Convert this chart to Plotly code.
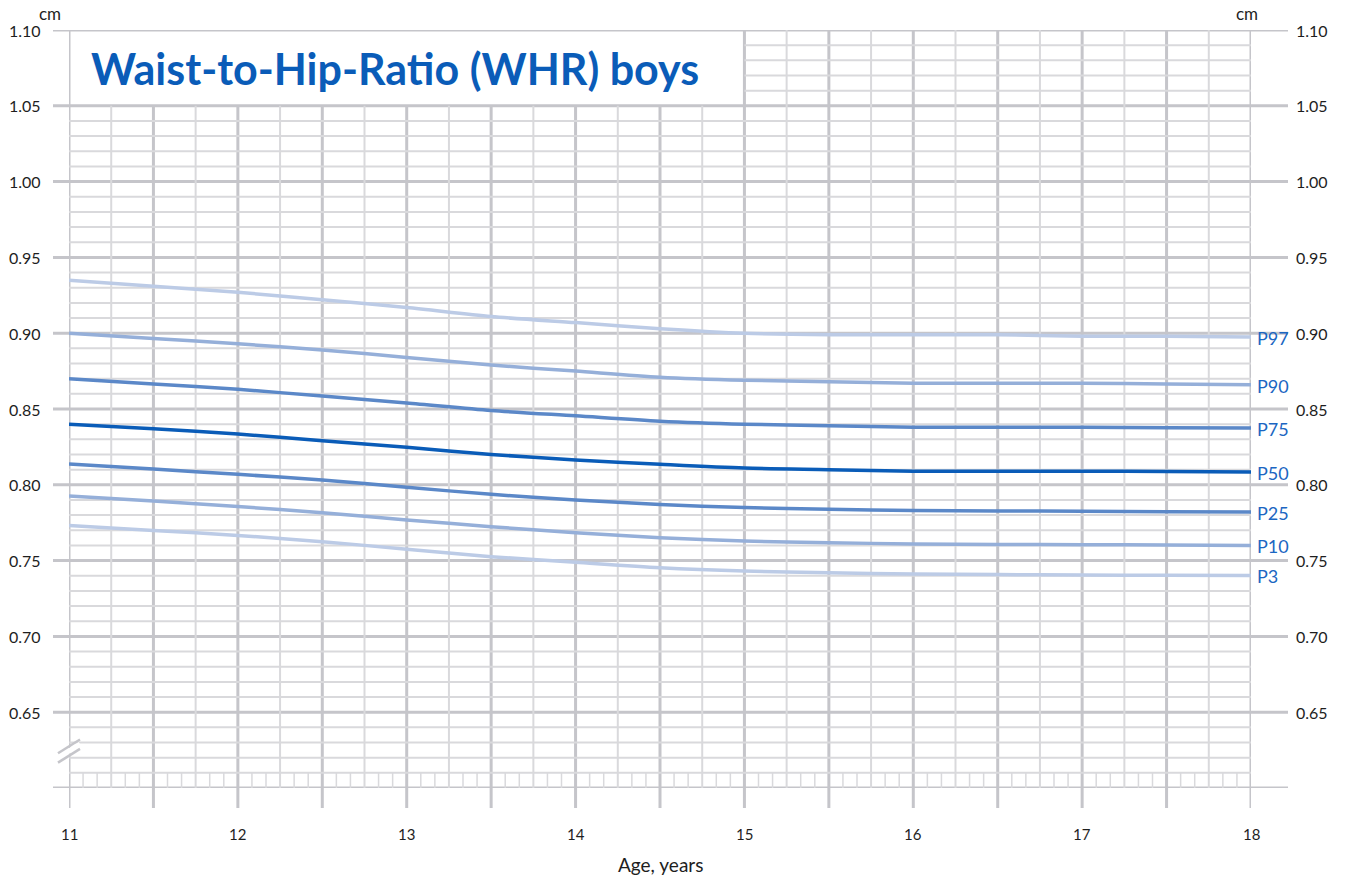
import numpy as np
import plotly.graph_objects as go

# ---------------- data ----------------
ages = [11, 11.5, 12, 12.5, 13, 13.5, 14, 14.5, 15, 15.5, 16, 16.5, 17, 17.5, 18]
p97 = [0.935, 0.931, 0.927, 0.922, 0.917, 0.911, 0.907, 0.903, 0.900, 0.899, 0.899, 0.899, 0.898, 0.898, 0.8975]
p90 = [0.900, 0.8965, 0.893, 0.889, 0.884, 0.879, 0.875, 0.871, 0.869, 0.868, 0.867, 0.867, 0.867, 0.8665, 0.866]
p75 = [0.870, 0.8665, 0.863, 0.8585, 0.854, 0.849, 0.8455, 0.842, 0.840, 0.839, 0.838, 0.838, 0.838, 0.8377, 0.8375]
p50 = [0.840, 0.837, 0.8335, 0.829, 0.8247, 0.820, 0.8164, 0.8135, 0.811, 0.810, 0.809, 0.809, 0.809, 0.8087, 0.8085]
p25 = [0.8137, 0.8104, 0.8069, 0.8032, 0.7984, 0.7937, 0.790, 0.787, 0.785, 0.7838, 0.783, 0.7828, 0.7825, 0.7823, 0.782]
p10 = [0.7926, 0.7893, 0.7857, 0.7816, 0.7768, 0.7724, 0.7684, 0.7651, 0.7629, 0.7618, 0.761, 0.7607, 0.7605, 0.7603, 0.760]
p3 = [0.7732, 0.7699, 0.7666, 0.7625, 0.7575, 0.7526, 0.7489, 0.7453, 0.7431, 0.742, 0.7412, 0.7408, 0.7405, 0.7403, 0.7402]

series_names = ["P97", "P90", "P75", "P50", "P25", "P10", "P3"]
series_values = [p97, p90, p75, p50, p25, p10, p3]
series_colors = ["#bccbe6", "#95afd9", "#5b88c8", "#0a5cb8", "#5b88c8", "#95afd9", "#bccbe6"]

y_tick_vals = [0.65, 0.70, 0.75, 0.80, 0.85, 0.90, 0.95, 1.00, 1.05, 1.10]
y_tick_text = ["0.65", "0.70", "0.75", "0.80", "0.85", "0.90", "0.95", "1.00", "1.05", "1.10"]
x_tick_vals = [11, 12, 13, 14, 15, 16, 17, 18]
x_tick_text = ["11", "12", "13", "14", "15", "16", "17", "18"]

title_text = "Waist-to-Hip-Ratio (WHR) boys"
x_title = "Age, years"
unit_text = "cm"

# ---------------- layout constants ----------------
W, H = 1346, 881
ML, MT = 69, 30
MR = W - 1251
MB = H - 788
PW = W - ML - MR
PH = H - MT - MB
X0, X1 = 11, 18
Y0, Y1 = 0.60, 1.10
BOX_X1, BOX_Y0 = 15, 1.05  # title box (no grid inside)

MAJ = "#c5c5ca"
MIN = "#d9d9dc"
BLUE_TXT = "#1b66c2"
TXT = "#1e1e1e"
FONT = "Lato"


def px_x(p):
    """page pixel x -> paper x"""
    return (p - ML) / PW


def px_y(p):
    """page pixel y -> paper y"""
    return 1 - (p - MT) / PH


def yp(v):
    return (v - Y0) / (Y1 - Y0)


shapes = []


def add_line(x0, y0, x1, y1, color, width, xref="x", yref="y", layer="below"):
    shapes.append(dict(type="line", x0=x0, y0=y0, x1=x1, y1=y1, xref=xref, yref=yref,
                       layer=layer, line=dict(color=color, width=width)))


# monthly ticks in the strip at the bottom
for m in range(1, 12 * (X1 - X0)):
    if m % 3 == 0:
        continue
    x = X0 + m / 12
    add_line(x, 0.60, x, 0.61, MIN, 1.5)

# minor horizontal gridlines (every 0.01)
for k in range(61, 110):
    if k % 5 == 0:
        continue
    v = k / 100
    xs = BOX_X1 if v > BOX_Y0 else X0
    add_line(xs, v, X1, v, MIN, 2)

# minor vertical gridlines (quarter years)
for q in range(1, 4 * (X1 - X0)):
    if q % 2 == 0:
        continue
    x = X0 + q / 4
    top = Y1 if x > BOX_X1 else BOX_Y0
    add_line(x, Y0, x, top, MIN, 2)

# major vertical gridlines (half years), extending below the axis
for h in range(0, 2 * (X1 - X0) + 1):
    x = X0 + h / 2
    top = BOX_Y0 if (X0 < x < BOX_X1) else Y1
    add_line(x, px_y(808), x, yp(top), MAJ, 3, xref="x", yref="paper")

# major horizontal gridlines, extending beyond both sides
for k in range(60, 111, 5):
    v = k / 100
    add_line(px_x(53), v, px_x(1288), v, MAJ, 3, xref="paper", yref="y")

# axis break marks
add_line(px_x(58), 0.6198, px_x(80), 0.6289, "white", 5, xref="paper", layer="above")
add_line(px_x(58), 0.6229, px_x(80), 0.6320, MAJ, 2.5, xref="paper", layer="above")
add_line(px_x(58), 0.6167, px_x(80), 0.6258, MAJ, 2.5, xref="paper", layer="above")

fig = go.Figure()

for name, vals, col in zip(series_names, series_values, series_colors):
    fig.add_trace(go.Scatter(x=ages, y=vals, mode="lines", name=name,
                             line=dict(color=col, width=3.5, shape="spline", smoothing=0.8),
                             hoverinfo="x+y+name", showlegend=False))

annotations = []
# percentile labels at line ends
for name, vals in zip(series_names, series_values):
    annotations.append(dict(x=ages[-1], y=vals[-1], xref="x", yref="y", text=name,
                            showarrow=False, xanchor="left", yanchor="middle", xshift=4, yshift=-1,
                            font=dict(family=FONT, size=18, color=BLUE_TXT)))

# y tick labels (left and right)
for v, t in zip(y_tick_vals, y_tick_text):
    annotations.append(dict(x=px_x(43), y=v, xref="paper", yref="y", text=t, showarrow=False,
                            xanchor="right", yanchor="middle", font=dict(family=FONT, size=16, color=TXT)))
    annotations.append(dict(x=px_x(1294), y=v, xref="paper", yref="y", text=t, showarrow=False,
                            xanchor="left", yanchor="middle", font=dict(family=FONT, size=16, color=TXT)))

# x tick labels
for v, t in zip(x_tick_vals, x_tick_text):
    annotations.append(dict(x=v, y=px_y(834), xref="x", yref="paper", text=t, showarrow=False,
                            xanchor="center", yanchor="middle", font=dict(family=FONT, size=15, color=TXT)))

annotations.append(dict(x=0.5, y=px_y(864), xref="paper", yref="paper", text=x_title, showarrow=False,
                        xanchor="center", yanchor="middle", font=dict(family=FONT, size=19, color=TXT)))
annotations.append(dict(x=px_x(50), y=px_y(14), xref="paper", yref="paper", text=unit_text, showarrow=False,
                        xanchor="center", yanchor="middle", font=dict(family=FONT, size=17, color=TXT)))
annotations.append(dict(x=px_x(1247), y=px_y(14), xref="paper", yref="paper", text=unit_text, showarrow=False,
                        xanchor="center", yanchor="middle", font=dict(family=FONT, size=17, color=TXT)))
annotations.append(dict(x=px_x(89), y=px_y(68), xref="paper", yref="paper", text="<b>" + title_text + "</b>",
                        showarrow=False, xanchor="left", yanchor="middle",
                        font=dict(family=FONT, size=43, color="#0a5cb8")))

fig.update_layout(
    width=W, height=H,
    margin=dict(l=ML, r=MR, t=MT, b=MB, pad=0),
    paper_bgcolor="white", plot_bgcolor="white",
    xaxis=dict(range=[X0, X1], showgrid=False, zeroline=False, showticklabels=False,
               showline=False, ticks="", fixedrange=True),
    yaxis=dict(range=[Y0, Y1], showgrid=False, zeroline=False, showticklabels=False,
               showline=False, ticks="", fixedrange=True),
    shapes=shapes,
    annotations=annotations,
    showlegend=False,
)

fig.write_html(
    "out.html",
    config={"displayModeBar": False},
    post_script="document.body.style.margin='0px';document.body.style.overflow='hidden';",
)
